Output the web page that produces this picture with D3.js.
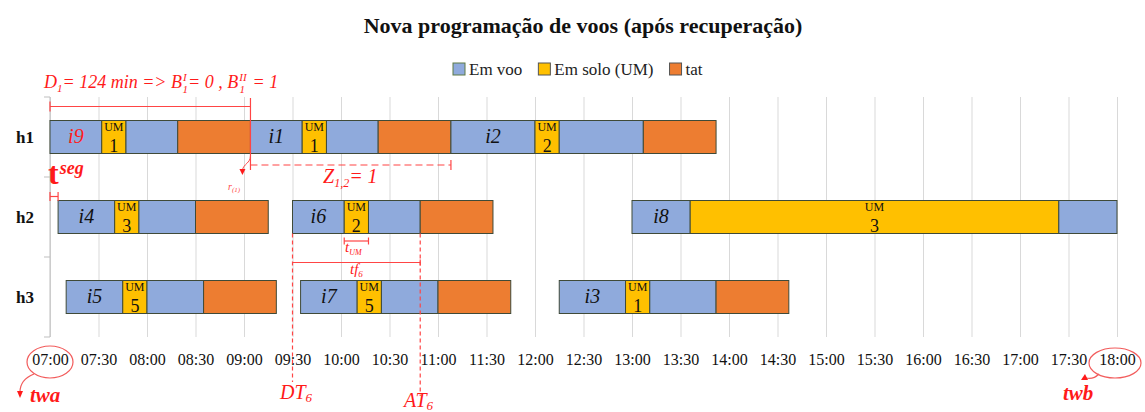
<!DOCTYPE html>
<html lang="pt">
<head>
<meta charset="UTF-8">
<title>Nova programação de voos</title>
<script src="https://cdn.jsdelivr.net/npm/d3@7/dist/d3.min.js"></script>
<style>
    body { margin: 0; background: #fff; }
    text { font-family: "Liberation Serif", "Times New Roman", serif; }
</style>
</head>
<body>
<svg width="1145" height="412" id="main"></svg>
<script>
    // data (times in HH:MM, durations in minutes)
    const aircraft = ['h1', 'h2', 'h3'];
    const flights = ['i9', 'i1', 'i2', 'i4', 'i6', 'i8', 'i5', 'i7', 'i3'];
    const flightRow = ['h1', 'h1', 'h1', 'h2', 'h2', 'h2', 'h3', 'h3', 'h3'];
    const departure = ['07:00', '09:04', '11:08', '07:05', '09:30', '13:00', '07:10', '09:35', '12:15'];
    const flyBefore = [32, 32, 52, 35, 32, 36, 35, 35, 41];
    const groundUM = [15, 15, 15, 15, 15, 228, 15, 15, 15];
    const flyAfter = [32, 32, 52, 35, 32, 36, 35, 35, 41];
    const tatTime = [45, 45, 45, 45, 45, 0, 45, 45, 45];
    const umBase = [1, 1, 2, 3, 2, 3, 5, 5, 1];
    const seriesNames = ['Em voo', 'Em solo (UM)', 'tat'];
    const seriesColors = ['#8faadc', '#ffc000', '#ed7d31'];
    const timeWindow = ['07:00', '18:00'];

    const parse = d3.timeParse('%H:%M');
    const fmt = d3.timeFormat('%H:%M');
    const svg = d3.select('#main');
    const red = '#ff1a1a', redLine = '#ff4545';

    const x = d3.scaleTime().domain(timeWindow.map(parse)).range([50, 1117]);
    const y = d3.scaleBand().domain(aircraft).range([97, 337])
        .paddingInner(0.5875).paddingOuter(0.29375);
    const step = y.step();
    const at = t => x(parse(t));
    const addMin = (t, m) => d3.timeMinute.offset(parse(t), m);

    // segments of every flight
    let segs = [];
    flights.forEach((f, i) => {
        let parts = [[0, flyBefore[i]], [1, groundUM[i]], [0, flyAfter[i]], [2, tatTime[i]]];
        let t = 0;
        parts.forEach(([k, d]) => {
            if (d > 0) segs.push({flight: f, i: i, row: flightRow[i], kind: k, t0: t, t1: t + d});
            t += d;
        });
    });

    // title
    svg.append('text').text('Nova programação de voos (após recuperação)')
        .attr('x', 583).attr('y', 33).attr('text-anchor', 'middle')
        .attr('font-size', 22).attr('font-weight', 'bold').attr('fill', '#111');

    // legend
    let lx = 453;
    seriesNames.forEach((n, k) => {
        svg.append('rect').attr('x', lx).attr('y', 63).attr('width', 12).attr('height', 12)
            .attr('fill', seriesColors[k]).attr('stroke', k === 0 ? '#5f7a45' : '#555').attr('stroke-width', 1);
        let t = svg.append('text').text(n).attr('x', lx + 16).attr('y', 75)
            .attr('font-size', 17).attr('fill', '#222');
        lx += 16 + t.node().getComputedTextLength() + 16;
    });

    // grid + x axis labels
    const xAxis = d3.axisBottom(x).ticks(d3.timeMinute.every(30)).tickFormat(fmt)
        .tickSize(-(y.range()[1] - y.range()[0])).tickPadding(17);
    const gx = svg.append('g').attr('transform', `translate(0, ${y.range()[1]})`).call(xAxis);
    gx.select('.domain').remove();
    gx.selectAll('.tick line').attr('stroke', '#d9d9d9');
    gx.selectAll('.tick text').attr('font-size', 16).attr('fill', '#111')
        .attr('font-family', '"Liberation Serif", serif');

    // y axis (category borders)
    const ga = svg.append('g');
    ga.append('line').attr('x1', x.range()[0]).attr('x2', x.range()[0])
        .attr('y1', y.range()[0]).attr('y2', y.range()[1]).attr('stroke', '#bfbfbf');
    d3.range(aircraft.length + 1).forEach(k => {
        ga.append('line').attr('x1', x.range()[0] - 6).attr('x2', x.range()[0])
            .attr('y1', y.range()[0] + k * step).attr('y2', y.range()[0] + k * step).attr('stroke', '#bfbfbf');
    });
    aircraft.forEach(a => {
        svg.append('text').text(a).attr('x', 34).attr('y', y(a) + y.bandwidth() / 2 + 6)
            .attr('text-anchor', 'end').attr('font-size', 17).attr('font-weight', 'bold').attr('fill', '#111');
    });

    // bars
    const gb = svg.append('g');
    segs.forEach(s => {
        let x0 = x(addMin(departure[s.i], s.t0)), x1 = x(addMin(departure[s.i], s.t1));
        gb.append('rect').attr('x', x0).attr('y', y(s.row)).attr('width', x1 - x0).attr('height', y.bandwidth())
            .attr('fill', seriesColors[s.kind]).attr('stroke', '#3f4a38').attr('stroke-width', 1);
        if (s.kind === 1) {
            let cx = (x0 + x1) / 2;
            gb.append('text').text('UM').attr('x', cx).attr('y', y(s.row) + 10)
                .attr('text-anchor', 'middle').attr('font-size', 12).attr('fill', '#111');
            gb.append('text').text(umBase[s.i]).attr('x', cx).attr('y', y(s.row) + y.bandwidth() - 2)
                .attr('text-anchor', 'middle').attr('font-size', 18).attr('fill', '#111');
        }
        if (s.kind === 0 && s.t0 === 0) {
            gb.append('text').text(s.flight).attr('x', (x0 + x1) / 2).attr('y', y(s.row) + y.bandwidth() / 2 + 6)
                .attr('text-anchor', 'middle').attr('font-size', 20).attr('font-style', 'italic')
                .attr('fill', s.flight === 'i9' ? red : '#111');
        }
    });

    // annotations
    const ga2 = svg.append('g');
    const line = (x1, y1, x2, y2, dash, col) => ga2.append('line').attr('x1', x1).attr('y1', y1)
        .attr('x2', x2).attr('y2', y2).attr('stroke', col || redLine).attr('stroke-width', 1.2)
        .attr('stroke-dasharray', dash || null);
    const cap = (xx, yy, h) => line(xx, yy - h, xx, yy + h);
    const h2Bot = y('h2') + y.bandwidth();
    const xi1 = at(departure[1]);
    const xEndI1 = x(addMin(departure[1], flyBefore[1] + groundUM[1] + flyAfter[1] + tatTime[1]));

    // D1 span
    line(x(parse('07:00')), 106.5, xi1, 106.5); cap(x(parse('07:00')), 106.5, 5);
    line(xi1, 98, xi1, 170);
    let dt = ga2.append('text').attr('x', 44).attr('y', 88).attr('fill', red)
        .attr('font-size', 18).attr('font-style', 'italic');
    dt.append('tspan').text('D');
    dt.append('tspan').text('1').attr('font-size', 11).attr('dy', 4);
    dt.append('tspan').text('= 124 min => B').attr('dy', -4);
    dt.append('tspan').text('I').attr('font-size', 11).attr('dy', -7).attr('dx', 1);
    dt.append('tspan').text('1').attr('font-size', 11).attr('dy', 12).attr('dx', -4);
    dt.append('tspan').text('= 0 , B').attr('dy', -5);
    dt.append('tspan').text('II').attr('font-size', 11).attr('dy', -7).attr('dx', 1);
    dt.append('tspan').text('1').attr('font-size', 11).attr('dy', 12).attr('dx', -7);
    dt.append('tspan').text(' = 1').attr('dy', -5).attr('dx', 3);

    // Z1,2
    line(xi1, 165, xEndI1, 165, '7,4'); cap(xEndI1, 165, 5);
    let zt = ga2.append('text').attr('x', 323).attr('y', 183).attr('fill', red)
        .attr('font-size', 20).attr('font-style', 'italic');
    zt.append('tspan').text('Z');
    zt.append('tspan').text('1,2').attr('font-size', 12).attr('dy', 4);
    zt.append('tspan').text('= 1').attr('dy', -4);

    // r(1) arrow
    ga2.append('path').attr('d', `M${xi1},156 C${xi1},163 ${xi1 - 7},164 ${xi1 - 8},170`)
        .attr('fill', 'none').attr('stroke', redLine).attr('stroke-width', 1);
    ga2.append('path').attr('d', `M${xi1 - 11},169 L${xi1 - 5},169 L${xi1 - 8},175 Z`).attr('fill', red);
    let rt = ga2.append('text').attr('x', 228).attr('y', 190).attr('fill', '#ff4a4a')
        .attr('font-size', 10).attr('font-style', 'italic');
    rt.append('tspan').text('r');
    rt.append('tspan').text('(1)').attr('font-size', 7).attr('dy', 2);

    // t seg
    let ts = ga2.append('text').attr('x', 48).attr('y', 184).attr('fill', red).attr('font-weight', 'bold');
    ts.append('tspan').text('t').attr('font-size', 32);
    ts.append('tspan').text('seg').attr('font-size', 18).attr('dy', -10).attr('dx', 1).attr('font-style', 'italic');
    let xi4 = at(departure[3]);
    line(x(parse('07:00')), 196.5, xi4, 196.5); cap(x(parse('07:00')), 196.5, 4.5); cap(xi4, 196.5, 4.5);

    // i6 details
    const xDT = at(departure[4]);
    const xUm0 = x(addMin(departure[4], flyBefore[4]));
    const xUm1 = x(addMin(departure[4], flyBefore[4] + groundUM[4]));
    const xAT = x(addMin(departure[4], flyBefore[4] + groundUM[4] + flyAfter[4]));
    line(xUm0, 241, xUm1, 241); cap(xUm0, 241, 3.5); cap(xUm1, 241, 3.5);
    let tu = ga2.append('text').attr('x', 345).attr('y', 252).attr('fill', red)
        .attr('font-size', 15).attr('font-style', 'italic');
    tu.append('tspan').text('t');
    tu.append('tspan').text('UM').attr('font-size', 8).attr('dy', 3);
    line(xDT, 262.5, xAT, 262.5); cap(xAT, 262.5, 3);
    let tf = ga2.append('text').attr('x', 350).attr('y', 274).attr('fill', red)
        .attr('font-size', 15).attr('font-style', 'italic');
    tf.append('tspan').text('tf');
    tf.append('tspan').text('6').attr('font-size', 9).attr('dy', 3);
    line(xDT, h2Bot, xDT, 382, '4,3');
    line(xAT, h2Bot, xAT, 396, '4,3');
    const sub = (tx, ty, main, s) => {
        let t = ga2.append('text').attr('x', tx).attr('y', ty).attr('fill', red)
            .attr('font-size', 20).attr('font-style', 'italic');
        t.append('tspan').text(main);
        t.append('tspan').text(s).attr('font-size', 13).attr('dy', 3);
    };
    sub(280, 399, 'DT', '6');
    sub(404, 407, 'AT', '6');

    // time window
    const xa = x(parse(timeWindow[0])), xb = x(parse(timeWindow[1]));
    ga2.append('ellipse').attr('cx', xa).attr('cy', 362).attr('rx', 23).attr('ry', 16)
        .attr('fill', 'none').attr('stroke', '#f25c5c').attr('stroke-width', 1.2);
    ga2.append('path').attr('d', `M${xa - 16},374 C${xa - 26},378 ${xa - 30},384 ${xa - 30},392`)
        .attr('fill', 'none').attr('stroke', '#f25c5c').attr('stroke-width', 1.2);
    ga2.append('path').attr('d', `M${xa - 33},391 L${xa - 27},391 L${xa - 30},398 Z`).attr('fill', red);
    ga2.append('text').text('twa').attr('x', 30).attr('y', 402).attr('fill', red)
        .attr('font-size', 21).attr('font-style', 'italic').attr('font-weight', 'bold');

    ga2.append('ellipse').attr('cx', xb - 2).attr('cy', 363).attr('rx', 26).attr('ry', 15)
        .attr('fill', 'none').attr('stroke', '#f25c5c').attr('stroke-width', 1.2);
    ga2.append('path').attr('d', `M${xb - 18},374 C${xb - 22},378 ${xb - 27},379 ${xb - 31},378`)
        .attr('fill', 'none').attr('stroke', '#f25c5c').attr('stroke-width', 1.2);
    ga2.append('path').attr('d', `M${xb - 36},380 L${xb - 29},380 L${xb - 32},374 Z`).attr('fill', red);
    ga2.append('text').text('twb').attr('x', 1063).attr('y', 400).attr('fill', red)
        .attr('font-size', 21).attr('font-style', 'italic').attr('font-weight', 'bold');
</script>
</body>
</html>
